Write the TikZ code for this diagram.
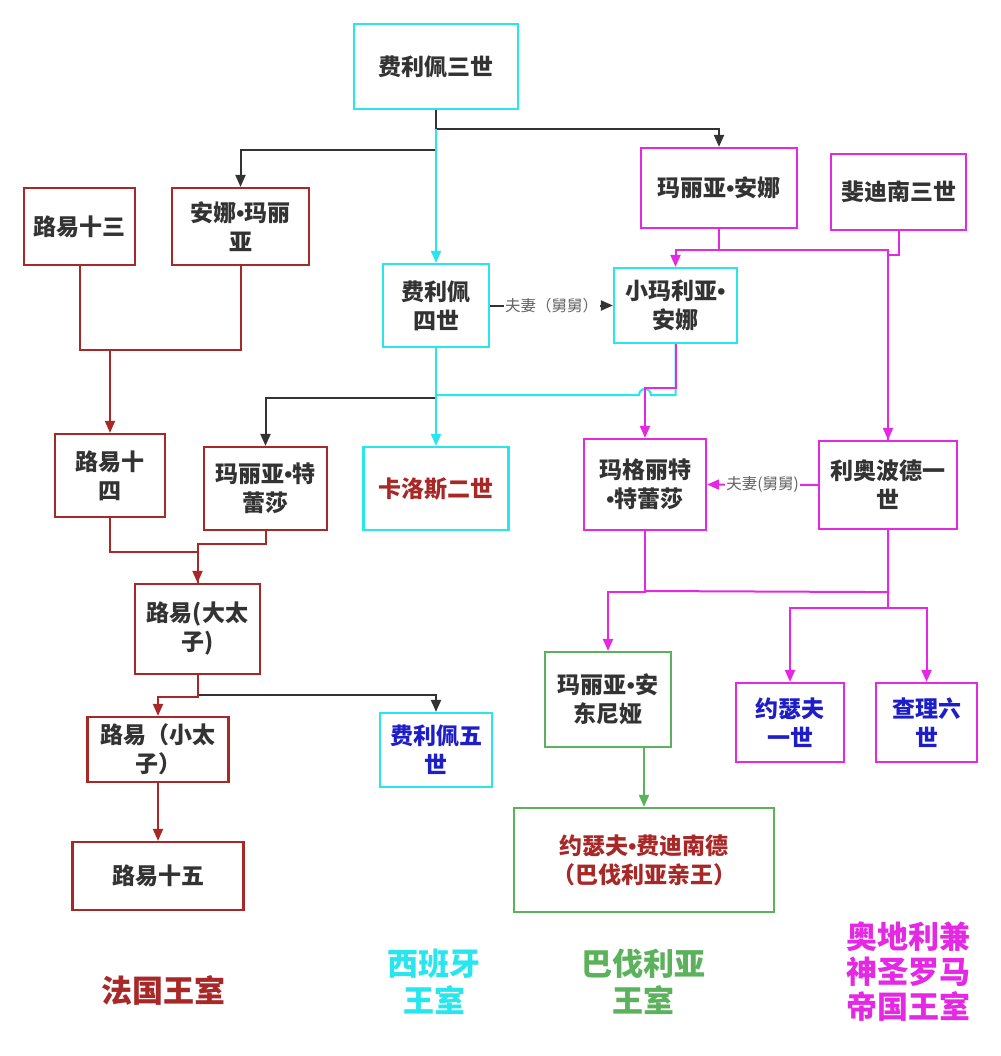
\documentclass[tikz,border=0pt]{standalone}
\usepackage{fontspec}
\setmainfont{Noto Sans CJK SC}
\newfontfamily\latinf{Liberation Sans}
\newcommand{\dt}{{\latinf\bfseries •}}
\usetikzlibrary{arrows.meta,calc}
\definecolor{rd}{RGB}{168,40,40}
\definecolor{cy}{RGB}{40,230,238}
\definecolor{mg}{RGB}{228,40,228}
\definecolor{gr}{RGB}{92,178,92}
\definecolor{bl}{RGB}{30,30,200}
\definecolor{tx}{RGB}{51,51,51}
\definecolor{ln}{RGB}{51,51,51}
\definecolor{lb}{RGB}{100,100,100}
\begin{document}
\begin{tikzpicture}[x=1pt,y=-1pt,
  box/.style={draw, line width=2.2pt, fill=white, align=center, inner sep=0pt,
    font=\bfseries\fontsize{23}{29}\selectfont, text=tx},
  rbox/.style={box, draw=rd},
  cbox/.style={box, draw=cy},
  mbox/.style={box, draw=mg},
  gbox/.style={box, draw=gr},
  con/.style={line width=2pt},
  arr/.style={con, -{Triangle[length=12pt,width=10pt]}},
  lab/.style={fill=white, inner sep=1.5pt, font=\fontsize{15.5}{16}\selectfont, text=lb},
  foot/.style={align=center, font=\bfseries\fontsize{31}{37}\selectfont}
]
\useasboundingbox[fill=white] (0,0) rectangle (1000,1056);

% nodes
\node[cbox, minimum width=164pt, minimum height=85pt] (f3) at (436,66.5) {费利佩三世};
\node[rbox, minimum width=111pt, minimum height=77pt] (l13) at (79.5,226.5) {路易十三};
\node[rbox, minimum width=137pt, minimum height=77pt] (anm) at (240.5,226.5) {安娜\dt 玛丽\\亚};
\node[cbox, minimum width=106pt, minimum height=83pt] (f4) at (436,305.5) {费利佩\\四世};
\node[cbox, minimum width=123pt, minimum height=75pt] (xma) at (675.5,305.5) {小玛利亚\dt\\安娜};
\node[mbox, minimum width=156pt, minimum height=80pt] (mya) at (719,188) {玛丽亚\dt 安娜};
\node[mbox, minimum width=135pt, minimum height=76pt] (fd3) at (898.5,192) {斐迪南三世};
\node[rbox, minimum width=110pt, minimum height=83pt] (l14) at (110,475.5) {路易十\\四};
\node[rbox, minimum width=123pt, minimum height=83pt] (mt) at (265.5,488.5) {玛丽亚\dt 特\\蕾莎};
\node[cbox, minimum width=145pt, minimum height=83pt, text=rd] (c2) at (436,488.5) {卡洛斯二世};
\node[mbox, minimum width=122pt, minimum height=91pt] (mgt) at (645,484.5) {玛格丽特\\\dt 特蕾莎};
\node[mbox, minimum width=138pt, minimum height=88pt] (leo) at (888,485) {利奥波德一\\世};
\node[rbox, minimum width=125pt, minimum height=90pt] (gd) at (197.5,629) {路易(大太\\子)};
\node[cbox, minimum width=112pt, minimum height=74pt, text=bl] (f5) at (436,750) {费利佩五\\世};
\node[rbox, minimum width=141pt, minimum height=65pt] (xtz) at (158,749.5) {路易（小太\\子）};
\node[rbox, minimum width=171pt, minimum height=68pt] (l15) at (158,876) {路易十五};
\node[gbox, minimum width=126pt, minimum height=95pt] (mad) at (608,699.5) {玛丽亚\dt 安\\东尼娅};
\node[mbox, minimum width=108pt, minimum height=79pt, text=bl] (j1) at (790,722.5) {约瑟夫\\一世};
\node[mbox, minimum width=101pt, minimum height=79pt, text=bl] (c6) at (926.5,722.5) {查理六\\世};
\node[gbox, minimum width=260pt, minimum height=104pt, text=rd] (jfd) at (644,860) {约瑟夫\dt 费迪南德\\（巴伐利亚亲王）};

% footer labels
\node[foot, text=rd] (fr) at (163,990) {法国王室};
\node[foot, text=cy] (es) at (434,982) {西班牙\\王室};
\node[foot, text=gr] (by) at (643,982) {巴伐利亚\\王室};
\node[foot, text=mg, font=\bfseries\fontsize{31}{35}\selectfont] (at) at (908,972) {奥地利兼\\神圣罗马\\帝国王室};

% connectors: Felipe III
\draw[arr, ln] (f3.south) -- ++(0,19) -| (mya.north);
\draw[arr, ln] (f3.south) -- ++(0,40) -| (anm.north);
\draw[arr, cy] ($(f3.south)+(0,19)$) -- (f4.north);

% Louis XIII + Anna Maria -> Louis XIV
\draw[con, rd] (l13.south) -- ++(0,84) -| (anm.south);
\draw[arr, rd] (l14.north |- 0,349) -- (l14.north);

% Felipe IV -> Mariana (spouse)
\draw[arr, ln] (f4.east) -- node[lab] {夫妻（舅舅）} (xma.west);

% Maria Anna + Ferdinand III
\draw[arr, mg] (mya.south) -- ++(0,21) -| (xma.north);
\draw[arr, mg] (mya.south) -- ++(0,21) -| (leo.north);
\draw[con, mg] (fd3.south) -- ++(0,24) -| (leo.north);

% Felipe IV children
\draw[arr, ln] (f4.south) -- ++(0,50) -| (mt.north);
\draw[con, cy] (xma.south) -- (xma.south |- 0,395) -- (651,395) arc (0:-180:6) -- (f4.south |- 0,395);
\draw[arr, cy] (f4.south) -- (c2.north);
\draw[arr, mg] (xma.south) -- ++(0,44) -| (mgt.north);

% Leopold -> Margarita (spouse)
\draw[arr, mg] (leo.west) -- node[lab] {夫妻(舅舅)} (mgt.east);

% Louis XIV + Maria Theresa -> Grand Dauphin
\draw[con, rd] (l14.south) -- ++(0,34) -| (gd.north);
\draw[arr, rd] (mt.south) -- ++(0,13) -| (gd.north);

% Grand Dauphin children
\draw[arr, ln] (gd.south) -- ++(0,20) -| (f5.north);
\draw[arr, rd] (gd.south) -- ++(0,22) -| (xtz.north);
\draw[arr, rd] (xtz.south) -- (l15.north);

% Margarita + Leopold children
\draw[arr, mg] (mgt.south) -- ++(0,61) -| (mad.north);
\draw[con, mg] (leo.south) -- ++(0,62) -- (mgt.south |- 0,591);
\draw[arr, mg] (leo.south) -- ++(0,78) -| (j1.north);
\draw[arr, mg] (leo.south) -- ++(0,78) -| (c6.north);

% Maria Antonia -> Joseph Ferdinand
\draw[arr, gr] (mad.south -| jfd.north) -- (jfd.north);
\end{tikzpicture}
\end{document}
